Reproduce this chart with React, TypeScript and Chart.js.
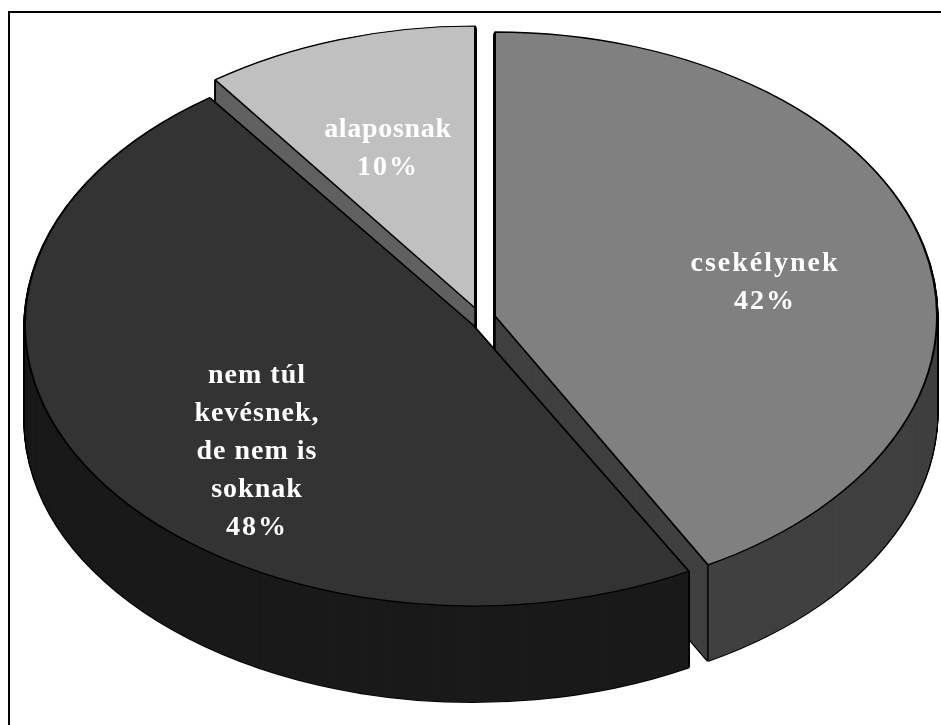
import React, { useEffect, useRef } from "react";
import { Chart, registerables } from "chart.js";

Chart.register(...registerables);

const categories = ["csekélynek", "nem túl kevésnek, de nem is soknak", "alaposnak"];
const shares = [42, 48, 10];
const labelLines = [
  ["csekélynek", "42%"],
  ["nem túl", "kevésnek,", "de nem is", "soknak", "48%"],
  ["alaposnak", "10%"],
];
const topColors = ["#808080", "#333333", "#c0c0c0"];
const sideColors = ["#404040", "#1a1a1a", "#606060"];

// Projection of each exploded slice on the page (tilted 3D look)
const sliceFrames = [
  { cx: 495, cy: 316, rx: 442, ry: 284 },
  { cx: 473, cy: 325, rx: 448, ry: 281 },
  { cx: 475, cy: 308, rx: 442, ry: 282 },
];
const labelAnchors = [
  { x: 765, y: 271 },
  { x: 257, y: 383 },
  { x: 388, y: 137 },
];
const labelSpacing = [2, 1, 0.7];
const drawOrder = [2, 0, 1];
const DEPTH = 96;
const LINE_HEIGHT = 38;

const pie3d = {
  id: "pie3d",
  beforeDatasetDraw(chart: any) {
    const ctx = chart.ctx;
    const meta = chart.getDatasetMeta(0);
    for (const i of drawOrder) {
      const el = meta.data[i];
      const f = sliceFrames[i];
      const base = el.options;
      const layer = (d: number, fill: string, width: number) => {
        ctx.save();
        ctx.translate(f.cx, f.cy + d);
        ctx.scale(f.rx / el.outerRadius, f.ry / el.outerRadius);
        ctx.translate(-el.x, -el.y);
        el.options = { ...base, backgroundColor: fill, borderWidth: width };
        el.draw(ctx);
        ctx.restore();
      };
      for (let d = DEPTH; d >= 1; d--) layer(d, "#000000", 2.6);
      for (let pass = 0; pass < 2; pass++) {
        for (let d = DEPTH; d >= 1; d--) layer(d, sideColors[i], 0);
      }
      ctx.save();
      ctx.strokeStyle = "#000000";
      ctx.lineWidth = 1.5;
      const corners = [
        [f.cx, f.cy],
        [f.cx + Math.cos(el.startAngle) * f.rx, f.cy + Math.sin(el.startAngle) * f.ry],
        [f.cx + Math.cos(el.endAngle) * f.rx, f.cy + Math.sin(el.endAngle) * f.ry],
      ];
      for (const [x, y] of corners) {
        ctx.beginPath();
        ctx.moveTo(x, y);
        ctx.lineTo(x, y + DEPTH);
        ctx.stroke();
      }
      ctx.restore();
      layer(0, topColors[i], 1.6);
      el.options = base;
    }
    return false;
  },
  afterDatasetsDraw(chart: any) {
    const ctx = chart.ctx;
    ctx.save();
    ctx.fillStyle = "#ffffff";
    ctx.font = 'bold 28px "Liberation Serif"';
    ctx.textAlign = "center";
    ctx.textBaseline = "alphabetic";
    labelLines.forEach((lines, i) => {
      const c = labelAnchors[i];
      lines.forEach((line, k) => {
        (ctx as any).letterSpacing = (k === lines.length - 1 ? 2 : labelSpacing[i]) + "px";
        ctx.fillText(line, c.x, c.y + k * LINE_HEIGHT);
      });
    });
    ctx.restore();
  },
};

export default function App() {
  const ref = useRef<HTMLCanvasElement>(null);
  useEffect(() => {
    const chart = new Chart(ref.current as HTMLCanvasElement, {
      type: "pie",
      data: {
        labels: categories,
        datasets: [
          {
            data: shares,
            backgroundColor: topColors,
            borderColor: "#000000",
            borderWidth: 2,
          },
        ],
      },
      options: {
        responsive: false,
        animation: false,
        events: [],
        layout: { padding: 0 },
        plugins: { legend: { display: false }, tooltip: { enabled: false } },
      },
      plugins: [pie3d as any],
    });
    return () => chart.destroy();
  }, []);
  return (
    <div style={{ position: "absolute", left: 0, top: 0, width: 941, height: 725, overflow: "hidden", background: "#fff" }}>
      <div
        style={{
          position: "absolute",
          left: 8,
          top: 11,
          width: 933,
          height: 714,
          borderTop: "2px solid #000",
          borderLeft: "2px solid #000",
        }}
      />
      <canvas ref={ref} width={941} height={725} style={{ position: "absolute", left: 0, top: 0 }} />
    </div>
  );
}
